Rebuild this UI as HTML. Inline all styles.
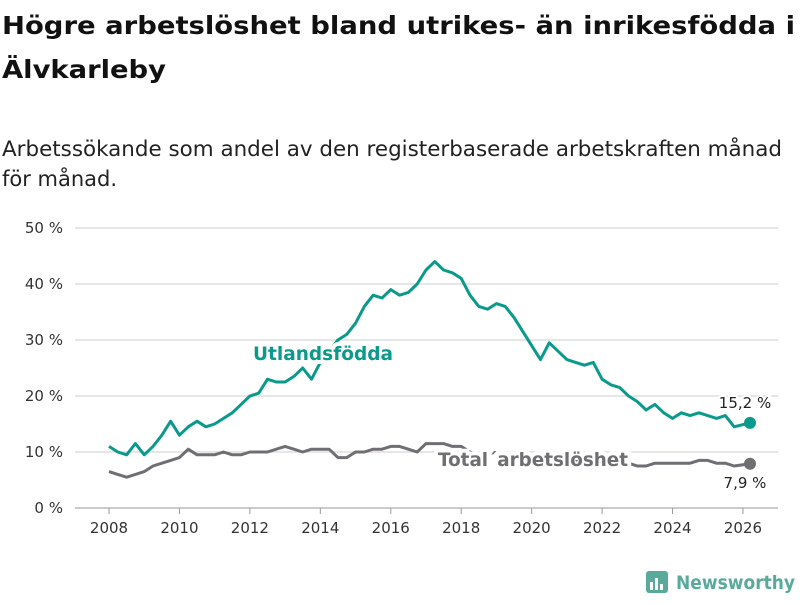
<!DOCTYPE html>
<html><head><meta charset="utf-8"><style>
body{margin:0;width:800px;height:600px;background:#fff;font-family:"Liberation Sans",sans-serif;overflow:hidden}
</style></head><body>
<svg width="800" height="600" id="c" font-family="DejaVu Sans, Liberation Sans, sans-serif">
<text x="2" y="34" font-size="25" font-weight="bold" fill="#111" textLength="793" lengthAdjust="spacingAndGlyphs">Högre arbetslöshet bland utrikes- än inrikesfödda i</text>
<text x="2" y="78" font-size="25" font-weight="bold" fill="#111" textLength="164" lengthAdjust="spacingAndGlyphs">Älvkarleby</text>
<text x="2" y="156" font-size="21" fill="#222" textLength="780" lengthAdjust="spacingAndGlyphs">Arbetssökande som andel av den registerbaserade arbetskraften månad</text>
<text x="2" y="186" font-size="21" fill="#222">för månad.</text>
<g id="grid"></g><g id="series"></g><g id="labels"></g>
<g>
<rect x="646" y="571" width="22" height="22" rx="3" fill="#5aaa9b"/>
<rect x="650" y="582" width="3" height="8" fill="#fff"/><rect x="655" y="578" width="3" height="12" fill="#fff"/><rect x="660" y="584" width="3" height="6" fill="#fff"/>
<text x="676" y="589" font-size="19" font-weight="bold" fill="#5aaa9b" textLength="119" lengthAdjust="spacingAndGlyphs">Newsworthy</text>
</g>
</svg>
<script>
const yTicks=[0,10,20,30,40,50];
const xTicks=[2008,2010,2012,2014,2016,2018,2020,2022,2024,2026];
const tealT=[2008,2008.25,2008.5,2008.75,2009,2009.25,2009.5,2009.75,2010,2010.25,2010.5,2010.75,2011,2011.25,2011.5,2011.75,2012,2012.25,2012.5,2012.75,2013,2013.25,2013.5,2013.75,2014,2014.25,2014.5,2014.75,2015,2015.25,2015.5,2015.75,2016,2016.25,2016.5,2016.75,2017,2017.25,2017.5,2017.75,2018,2018.25,2018.5,2018.75,2019,2019.25,2019.5,2019.75,2020,2020.25,2020.5,2020.75,2021,2021.25,2021.5,2021.75,2022,2022.25,2022.5,2022.75,2023,2023.25,2023.5,2023.75,2024,2024.25,2024.5,2024.75,2025,2025.25,2025.5,2025.75,2026.2];
const tealV=[11,10,9.5,11.5,9.5,11,13,15.5,13,14.5,15.5,14.5,15,16,17,18.5,20,20.5,23,22.5,22.5,23.5,25,23,26,28,30,31,33,36,38,37.5,39,38,38.5,40,42.5,44,42.5,42,41,38,36,35.5,36.5,36,34,31.5,29,26.5,29.5,28,26.5,26,25.5,26,23,22,21.5,20,19,17.5,18.5,17,16,17,16.5,17,16.5,16,16.5,14.5,15.2];
const grayV=[6.5,6,5.5,6,6.5,7.5,8,8.5,9,10.5,9.5,9.5,9.5,10,9.5,9.5,10,10,10,10.5,11,10.5,10,10.5,10.5,10.5,9,9,10,10,10.5,10.5,11,11,10.5,10,11.5,11.5,11.5,11,11,10,9.5,9.5,9.5,9.5,9,9,8.5,8.5,8.5,8.5,8.5,8.5,8.5,8.5,8,8,8,8,7.5,7.5,8,8,8,8,8,8.5,8.5,8,8,7.5,7.9];
const X=t=>109+(t-2008)*35.22, Y=v=>508-v*5.6;
const ns="http://www.w3.org/2000/svg";
function mk(tag,parent,attrs){const e=document.createElementNS(ns,tag);for(const k in attrs)e.setAttribute(k,attrs[k]);document.getElementById(parent).appendChild(e);return e;}
yTicks.forEach(v=>{
 const l=mk('line','grid',{x1:75,x2:778,y1:Y(v),y2:Y(v),stroke:v?'#ddd':'#999','stroke-width':v?1.5:1});
 
 
 const t=mk('text','grid',{x:63,y:Y(v)+5,'font-size':15,'text-anchor':'end',fill:'#333'});t.textContent=v+' %';
 
 
});
xTicks.forEach(v=>{
 const l=mk('line','grid',{x1:X(v),x2:X(v),y1:508,y2:514,stroke:'#999'});
 
 
 const t=mk('text','grid',{x:X(v),y:533,'font-size':15,'text-anchor':'middle',fill:'#333'});t.textContent=v;
 
 
});
function line(vals,color,name){
 const p=mk('polyline','series',{points:vals.map((v,i)=>X(tealT[i])+','+Y(v)).join(' '),fill:'none',stroke:color,'stroke-width':3,'stroke-linejoin':'round'});
 
 
 const n=vals.length-1;
 const c=mk('circle','series',{cx:X(tealT[n]),cy:Y(vals[n]),r:6,fill:color});
 
 
}
line(grayV,'#706e73','total-line');
line(tealV,'#0a9a8c','utlandsfodda-line');
function lab(x,y,txt,col,name,size,bold,anchor,len){
 const t=mk('text','labels',{x:x,y:y,'font-size':size,'font-weight':bold?'bold':'normal',fill:col,stroke:'#fff','stroke-width':bold?8:4,'paint-order':'stroke','text-anchor':anchor||'start'});
 if(len){t.setAttribute('textLength',len);t.setAttribute('lengthAdjust','spacingAndGlyphs');}
 t.textContent=txt;
 
 
}
lab(253,360,'Utlandsfödda','#0a9a8c','utlandsfodda-label',19,true,'start',140);
lab(438,466,'Total´arbetslöshet','#706e73','total-label',19,true,'start',190);
lab(745,408,'15,2 %','#222','utlandsfodda-end-value',15,false,'middle');
lab(745,488,'7,9 %','#222','total-end-value',15,false,'middle');
</script>
</body></html>
